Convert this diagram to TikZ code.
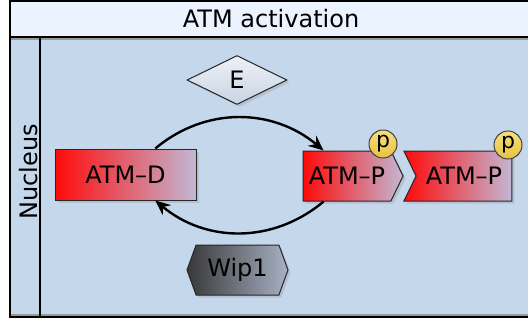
\documentclass[tikz,border=0pt]{standalone}
\usepackage{fontspec}
\setmainfont{DejaVu Sans}
\usetikzlibrary{shapes.geometric,shapes.symbols,shadows,arrows.meta,calc}
\definecolor{bodyblue}{HTML}{C5D7EB}
\definecolor{titleblue}{HTML}{EBF3FE}
\definecolor{redL}{HTML}{FF0A0A}
\definecolor{redR}{HTML}{C2B8D4}
\definecolor{greyL}{HTML}{383838}
\definecolor{greyR}{HTML}{A8B1C4}
\definecolor{diaT}{HTML}{EEF2F8}
\definecolor{diaB}{HTML}{C8D3E2}
\definecolor{yelT}{HTML}{F6E07A}
\definecolor{yelB}{HTML}{E6C244}
\tikzset{
  lbl/.style={font=\fontsize{24}{28}\selectfont},
  glyph/.style={lbl, draw=black!85, line width=1pt, inner sep=0pt,
    drop shadow={shadow xshift=2.5pt, shadow yshift=-2.5pt, opacity=0.25}},
  redglyph/.style={glyph, left color=redL, right color=redR},
  pcircle/.style={circle, draw=black!75, line width=1pt, inner sep=0pt,
    minimum size=28pt, top color=yelT, bottom color=yelB,
    font=\fontsize{22}{24}\selectfont},
  arr/.style={line width=2.4pt, -{Stealth[length=15pt,width=13pt,inset=5pt]}},
  frameline/.style={line width=1.3pt, draw=black}
}
\begin{document}
\begin{tikzpicture}[x=1pt,y=-1pt]
\useasboundingbox (0,0) rectangle (528,325);
% compartment
\fill[bodyblue] (10,37) rectangle (540,317);
\fill[titleblue] (10,1) rectangle (540,37);
\draw[black!40, line width=1.5pt] (10,39) -- (540,39);
\draw[black!40, line width=1.5pt] (10,315) -- (540,315);
\draw[frameline] (540,1) -- (10,1) -- (10,317) -- (540,317);
\draw[frameline] (10,37) -- (540,37);
\draw[frameline] (40,37) -- (40,317);
\node[lbl, inner sep=0pt] (title) at (271,19) {ATM activation};
\node[lbl, inner sep=0pt, rotate=90, anchor=center] (nuc) at (29,172) {Nucleus};
% glyphs
\node[glyph, diamond, minimum width=100pt, minimum height=49pt,
  top color=diaT, bottom color=diaB] (e) at (237,80) {E};
\node[redglyph, rectangle, minimum width=141pt, minimum height=51pt] (d) at (125.5,174.5) {ATM–D};
\node[redglyph, signal, signal to=east, signal pointer angle=128,
  minimum width=100pt, minimum height=50pt] (p1) at (347,176) {ATM–P};
\node[redglyph, signal, signal from=west, signal to=nowhere, signal pointer angle=128,
  minimum width=108pt, minimum height=50pt] (p2) at (464,176) {ATM–P};
\node[glyph, signal, signal to=east and west, signal pointer angle=140,
  minimum width=101pt, minimum height=50pt,
  left color=greyL, right color=greyR] (w) at (237.5,270) {Wip1};
\node[pcircle] (c1) at (383,144) {p};
\node[pcircle] (c2) at (508,145) {p};
% arcs
\coordinate (dtop) at ($(d.north west)!0.71!(d.north east)$);
\coordinate (dbot) at ($(d.south west)!0.71!(d.south east)$);
\coordinate (ptop) at ($(p1.north west)+(21,0)$);
\coordinate (pbot) at ($(p1.south west)+(21,0)$);
\draw[arr] (dtop) to[out=40,in=140] (ptop);
\draw[arr] (pbot) to[out=-140,in=-40] (dbot);
\end{tikzpicture}
\end{document}
